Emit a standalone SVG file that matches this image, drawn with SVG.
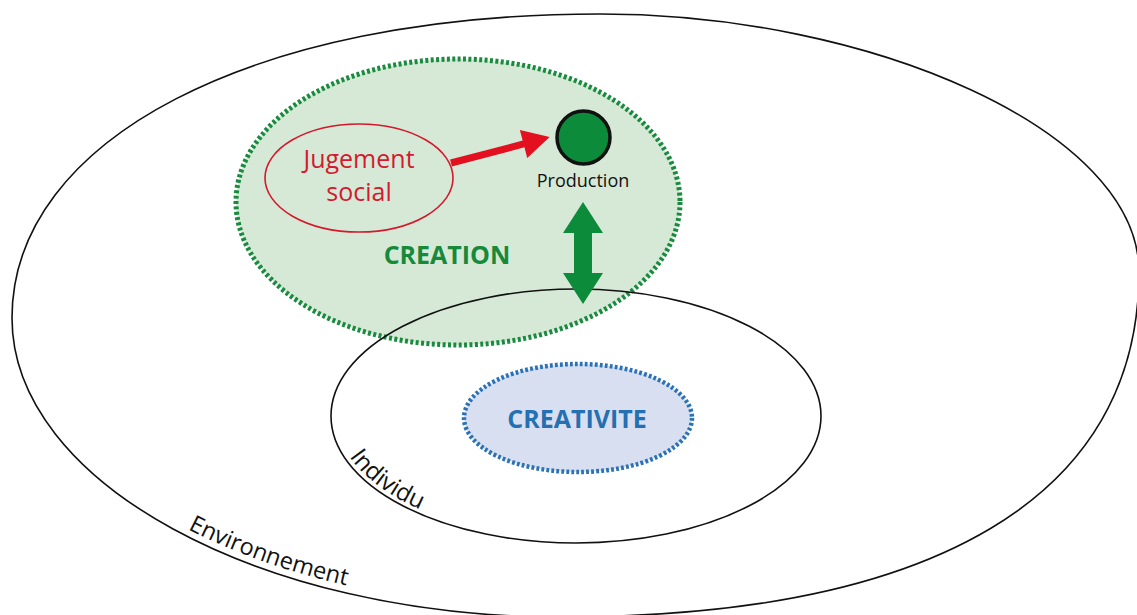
<svg xmlns="http://www.w3.org/2000/svg" width="1137" height="615" viewBox="0 0 1137 615">
  <style>
    .line { fill: none; stroke: #111; stroke-width: 1.6; }
    .lbl { font-family: "Open Sans", "Liberation Sans", sans-serif; fill: #111; }
    .big { font-family: "Open Sans", "Liberation Sans", sans-serif; font-weight: bold; font-size: 25px; text-anchor: middle; }
    .red { font-family: "Open Sans", "Liberation Sans", sans-serif; font-size: 25px; fill: #d31a30; text-anchor: middle; }
  </style>
  <defs>
    <path id="envPath" d="M20,318 C20,479 261,609 560,609"/>
    <path id="indPath" d="M336,416 A240,123 0 0 0 576,539"/>
  </defs>
  <rect width="1137" height="615" fill="#ffffff"/>

  <g id="environnement">
    <path class="line" d="M12,318 C12,139 253,14 600,14 C870,14 1139,130 1139,272 C1139,496 936,617 560,617 C259,617 12,482 12,318 Z"/>
    <text class="lbl" font-size="23.5"><textPath href="#envPath" startOffset="368" text-anchor="middle">Environnement</textPath></text>
  </g>

  <g id="creation">
    <ellipse cx="458" cy="202" rx="222" ry="143" fill="#d6e9d6" stroke="#188b3e" stroke-width="5" stroke-dasharray="3 2.4"/>
    <text class="big" x="447" y="264" fill="#17893b">CREATION</text>
  </g>

  <g id="individu">
    <ellipse class="line" cx="576" cy="416" rx="245" ry="127"/>
    <text class="lbl" font-size="24"><textPath href="#indPath" startOffset="88" text-anchor="middle">Individu</textPath></text>
  </g>

  <g id="creativite">
    <ellipse cx="578" cy="418" rx="114" ry="54" fill="#d8dff0" stroke="#2a72b7" stroke-width="4.5" stroke-dasharray="2.8 2.2"/>
    <text class="big" x="577" y="428" fill="#2470b0">CREATIVITE</text>
  </g>

  <g id="jugement">
    <ellipse cx="359" cy="178" rx="94" ry="54" fill="none" stroke="#d5182c" stroke-width="1.6"/>
    <text class="red" x="359" y="168">Jugement</text>
    <text class="red" x="359" y="201">social</text>
  </g>

  <g id="production">
    <circle cx="583.5" cy="137.5" r="26.5" fill="#0c8b3a" stroke="#111" stroke-width="3.5"/>
    <text class="lbl" x="583" y="187" font-size="18" text-anchor="middle">Production</text>
  </g>

  <g id="connectors">
    <path transform="translate(451,163) rotate(-14.7)" d="M0,-3.5 L75,-3.5 L75,-14.5 L102,0 L75,14.5 L75,3.5 L0,3.5 Z" fill="#e3101f"/>
    <path d="M583,202 L603,233 L592,233 L592,273 L603,273 L583,304 L563,273 L574,273 L574,233 L563,233 Z" fill="#0c8b3a"/>
  </g>
</svg>
